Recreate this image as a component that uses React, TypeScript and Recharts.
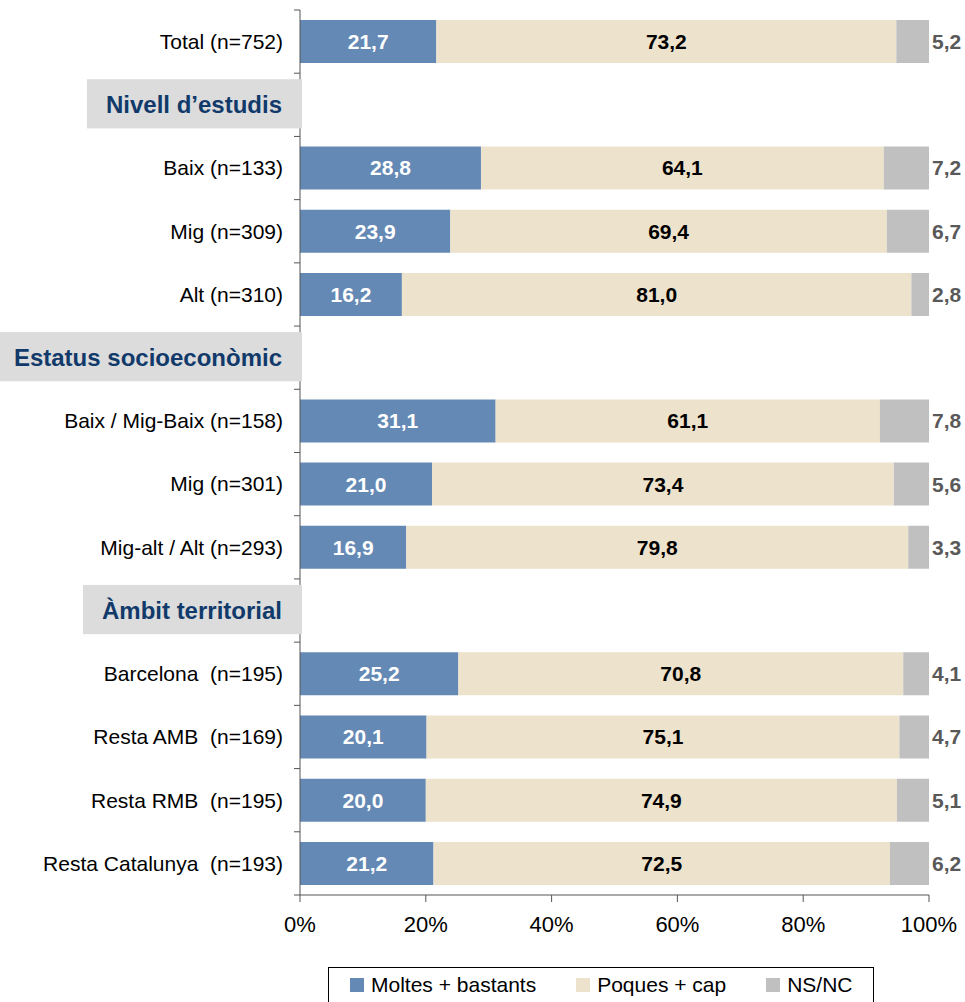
import { BarChart, Bar, XAxis, YAxis, Legend, LabelList } from 'recharts';

const categories = [
    'Total (n=752)',
    'Nivell d’estudis',
    'Baix (n=133)',
    'Mig (n=309)',
    'Alt (n=310)',
    'Estatus socioeconòmic',
    'Baix / Mig-Baix (n=158)',
    'Mig (n=301)',
    'Mig-alt / Alt (n=293)',
    'Àmbit territorial',
    'Barcelona  (n=195)',
    'Resta AMB  (n=169)',
    'Resta RMB  (n=195)',
    'Resta Catalunya  (n=193)',
];

const headers = ['Nivell d’estudis', 'Estatus socioeconòmic', 'Àmbit territorial'];

const moltes = [21.7, null, 28.8, 23.9, 16.2, null, 31.1, 21.0, 16.9, null, 25.2, 20.1, 20.0, 21.2];
const poques = [73.2, null, 64.1, 69.4, 81.0, null, 61.1, 73.4, 79.8, null, 70.8, 75.1, 74.9, 72.5];
const nsnc = [5.2, null, 7.2, 6.7, 2.8, null, 7.8, 5.6, 3.3, null, 4.1, 4.7, 5.1, 6.2];

const xTicks = [0, 0.2, 0.4, 0.6, 0.8, 1];

const series = [
    { key: 'moltes', name: 'Moltes + bastants', color: '#6589B5' },
    { key: 'poques', name: 'Poques + cap', color: '#EDE2CB' },
    { key: 'nsnc', name: 'NS/NC', color: '#C0C0C0' },
];

const data = categories.map((label, i) => ({
    label,
    moltes: moltes[i],
    poques: poques[i],
    nsnc: nsnc[i],
}));

const FONT = "'Liberation Sans', Arial, sans-serif";
const WIDTH = 965;
const HEIGHT = 1002;
const MARGIN = { top: 10, right: 36, left: 0, bottom: 0 };
const PLOT_BOTTOM = 895;
const BAND = (PLOT_BOTTOM - MARGIN.top) / categories.length;

const fmt = (v: unknown) => (v == null ? '' : (v as number).toFixed(1).replace('.', ','));

let canvasCtx: CanvasRenderingContext2D | null = null;
function textWidth(text: string, font: string) {
    if (!canvasCtx) canvasCtx = document.createElement('canvas').getContext('2d');
    if (!canvasCtx) return text.length * 12;
    canvasCtx.font = font;
    return canvasCtx.measureText(text).width;
}

function CategoryTick(props: any) {
    const { x, y, payload, index } = props;
    const label = String(payload.value);
    const top = y - BAND / 2;
    const tickMarks = (
        <>
            <line x1={x - 6} x2={x} y1={top} y2={top} stroke="#555" />
            {index === categories.length - 1 && (
                <line x1={x - 6} x2={x} y1={y + BAND / 2} y2={y + BAND / 2} stroke="#555" />
            )}
        </>
    );

    if (headers.includes(label)) {
        const w = textWidth(label, `bold 24px ${FONT}`);
        const boxLeft = Math.max(0, x - 18 - w - 19);
        return (
            <g>
                {tickMarks}
                <rect x={boxLeft} y={top + 6} width={x + 2 - boxLeft} height={BAND - 14} fill="#DCDCDC" />
                <text
                    x={x - 18}
                    y={y}
                    dy="0.35em"
                    textAnchor="end"
                    fontSize={24}
                    fontWeight="bold"
                    fill="#113A6B"
                    fontFamily={FONT}
                >
                    {label}
                </text>
            </g>
        );
    }

    return (
        <g>
            {tickMarks}
            <text
                x={x - 17}
                y={y}
                dy="0.35em"
                textAnchor="end"
                fontSize={21}
                fill="#000"
                fontFamily={FONT}
                xmlSpace="preserve"
                style={{ whiteSpace: 'pre' }}
            >
                {label}
            </text>
        </g>
    );
}

function LegendBox() {
    return (
        <div
            style={{
                border: '1px solid #000',
                height: 36,
                boxSizing: 'border-box',
                display: 'flex',
                alignItems: 'center',
                paddingLeft: 21,
                gap: 40,
                fontFamily: FONT,
                fontSize: 21,
                color: '#000',
            }}
        >
            {series.map(s => (
                <div key={s.key} style={{ display: 'flex', alignItems: 'center' }}>
                    <span style={{ width: 14, height: 14, background: s.color, marginRight: 7, display: 'inline-block' }} />
                    <span>{s.name}</span>
                </div>
            ))}
        </div>
    );
}

export default function App() {
    return (
        <div style={{ position: 'absolute', left: 0, top: 0, width: WIDTH, height: HEIGHT, background: '#fff', fontFamily: FONT }}>
            <BarChart
                width={WIDTH}
                height={HEIGHT}
                data={data}
                layout="vertical"
                stackOffset="expand"
                margin={MARGIN}
                barCategoryGap="16%"
            >
                <XAxis
                    type="number"
                    domain={[0, 1]}
                    ticks={xTicks}
                    tickFormatter={(v: number) => `${Math.round(v * 100)}%`}
                    tickSize={7}
                    tickMargin={14}
                    height={71}
                    stroke="#555"
                    tick={{ fontSize: 22, fill: '#000', fontFamily: FONT }}
                    interval={0}
                />
                <YAxis
                    type="category"
                    dataKey="label"
                    width={300}
                    tickLine={false}
                    tickSize={0}
                    tickMargin={0}
                    stroke="#555"
                    tick={<CategoryTick />}
                    interval={0}
                />
                <Legend
                    verticalAlign="bottom"
                    content={<LegendBox />}
                    wrapperStyle={{ top: 967, left: 328, width: 546 }}
                />
                <Bar dataKey="moltes" name="Moltes + bastants" stackId="a" fill="#6589B5" isAnimationActive={false}>
                    <LabelList
                        dataKey="moltes"
                        position="center"
                        formatter={fmt}
                        fill="#fff"
                        fontSize={21}
                        fontWeight="bold"
                        fontFamily={FONT}
                    />
                </Bar>
                <Bar dataKey="poques" name="Poques + cap" stackId="a" fill="#EDE2CB" isAnimationActive={false}>
                    <LabelList
                        dataKey="poques"
                        position="center"
                        formatter={fmt}
                        fill="#000"
                        fontSize={21}
                        fontWeight="bold"
                        fontFamily={FONT}
                    />
                </Bar>
                <Bar dataKey="nsnc" name="NS/NC" stackId="a" fill="#C0C0C0" isAnimationActive={false}>
                    <LabelList
                        dataKey="nsnc"
                        position="right"
                        offset={3}
                        formatter={fmt}
                        fill="#595959"
                        fontSize={21}
                        fontWeight="bold"
                        fontFamily={FONT}
                    />
                </Bar>
            </BarChart>
        </div>
    );
}
